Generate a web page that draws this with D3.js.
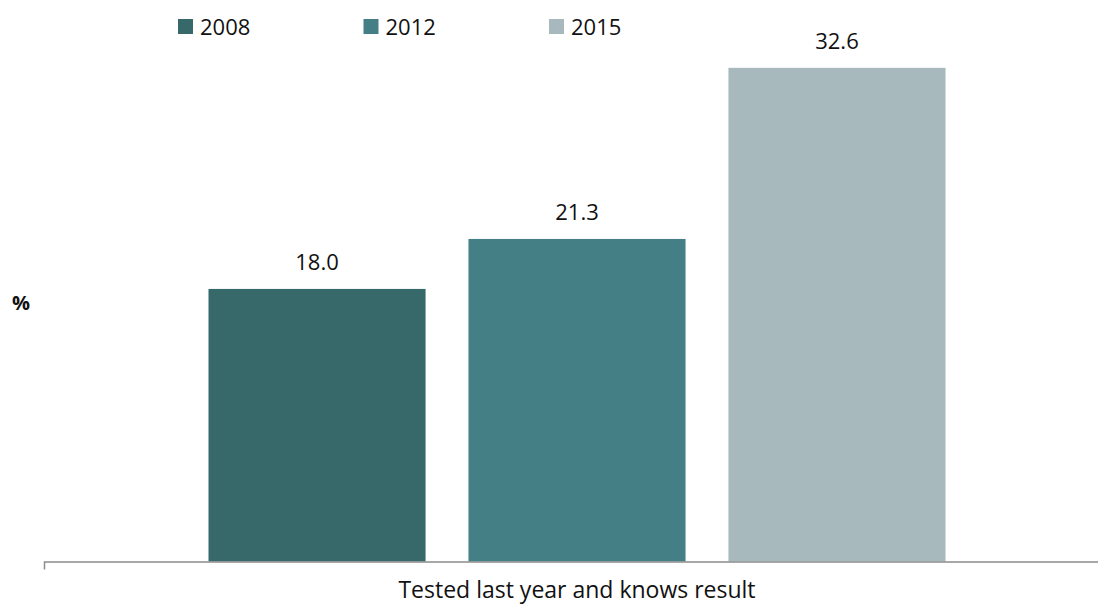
<!DOCTYPE html>
<html>
<head>
<meta charset="utf-8">
<script src="https://cdn.jsdelivr.net/npm/d3@7"></script>
<style>
  body { margin: 0; background: #fff; }
  svg { display: block; font-family: "Open Sans", Lato, sans-serif; }
</style>
</head>
<body>
<svg width="1098" height="610"></svg>
<script>
// chart data
const categories = ['Tested last year and knows result'];
const years = ['2008', '2012', '2015'];
const values2008 = [18.0];
const values2012 = [21.3];
const values2015 = [32.6];
const yMax = 35;

const colors = ['#37696b', '#447f85', '#a7b9bc'];
const seriesValues = [values2008, values2012, values2015];

const svg = d3.select('svg');

// flatten into rows: one per category/year
const rows = [];
categories.forEach((c, i) => {
    years.forEach((yr, j) => {
        rows.push({ category: c, year: yr, value: seriesValues[j][i] });
    });
});

const baseY = 561.5;

const x0 = d3.scaleBand()
    .domain(categories)
    .range([44, 1110])
    .paddingInner(0)
    .paddingOuter(0.2232);

const x1 = d3.scaleBand()
    .domain(years)
    .range([0, x0.bandwidth()])
    .paddingInner(0.165)
    .paddingOuter(0);

const y = d3.scaleLinear()
    .domain([0, yMax])
    .range([baseY, 31.5]);

const color = d3.scaleOrdinal().domain(years).range(colors);

// bars
svg.append('g')
    .selectAll('rect')
    .data(rows)
    .enter().append('rect')
    .attr('x', d => x0(d.category) + x1(d.year))
    .attr('y', d => y(d.value))
    .attr('width', x1.bandwidth())
    .attr('height', d => baseY - y(d.value))
    .attr('fill', d => color(d.year));

// value labels above bars
svg.append('g')
    .selectAll('text')
    .data(rows)
    .enter().append('text')
    .attr('x', d => x0(d.category) + x1(d.year) + x1.bandwidth() / 2)
    .attr('y', d => y(d.value) - 18.5)
    .attr('text-anchor', 'middle')
    .style('font-size', '22px')
    .attr('fill', '#111')
    .text(d => d.value.toFixed(1));

// x axis (line with a small outer tick at the left end)
const xAxis = svg.append('g')
    .attr('transform', `translate(0, ${baseY})`)
    .call(d3.axisBottom(x0).tickSizeInner(0).tickSizeOuter(8).tickPadding(20));
xAxis.select('.domain')
    .attr('stroke', '#8c8c8c')
    .attr('stroke-width', 1.5);
xAxis.selectAll('text')
    .style('font-size', '23px')
    .style('font-family', '"Open Sans", Lato, sans-serif')
    .attr('fill', '#111');

// y label
svg.append('text')
    .attr('x', 21)
    .attr('y', 310)
    .attr('text-anchor', 'middle')
    .style('font-size', '20px')
    .style('font-weight', 'bold')
    .attr('fill', '#111')
    .text('%');

// legend
const legend = svg.append('g')
    .selectAll('g')
    .data(years)
    .enter().append('g')
    .attr('transform', (d, i) => `translate(${178 + i * 185.5}, 19)`);
legend.append('rect')
    .attr('width', 15)
    .attr('height', 15)
    .attr('fill', d => color(d));
legend.append('text')
    .attr('x', 22)
    .attr('y', 16)
    .style('font-size', '22px')
    .attr('fill', '#111')
    .text(d => d);
</script>
</body>
</html>
